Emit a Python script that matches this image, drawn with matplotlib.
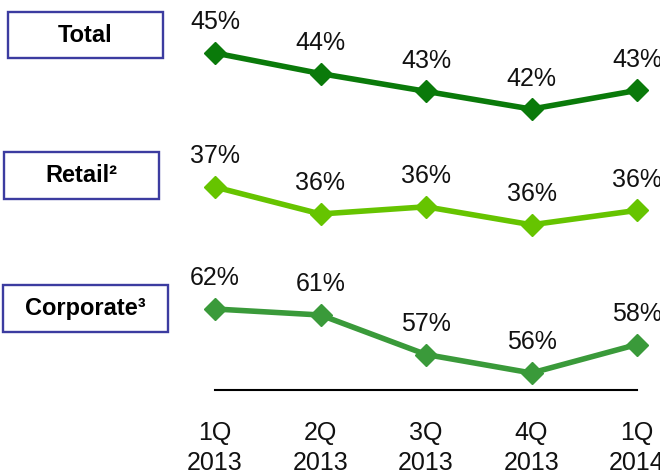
import matplotlib
matplotlib.use("Agg")
import matplotlib.pyplot as plt
from matplotlib.patches import Rectangle

plt.rcParams['font.family'] = ['Liberation Sans', 'DejaVu Sans']

# ---- data ----
quarters = ["1Q\n2013", "2Q\n2013", "3Q\n2013", "4Q\n2013", "1Q\n2014"]
total = [45.0, 43.9, 42.95, 42.0, 43.0]
retail = [36.8, 36.05, 36.25, 35.75, 36.15]
corporate = [62.0, 61.4, 57.45, 55.6, 58.45]
series_names = ["Total", "Retail²", "Corporate³"]

W, H = 660, 472
fig = plt.figure(figsize=(W / 100, H / 100), dpi=100)

def px_axes(top, bottom, left=180, right=660):
    return fig.add_axes([left / W, (H - bottom) / H, (right - left) / W, (bottom - top) / H])

xlim = ((180 - 215) / 105.5, (660 - 215) / 105.5)

panels = [
    (total, '#0a7a0a', (0, 135), (40.615, 47.834)),
    (retail, '#66c400', (135, 265), (34.633, 38.244)),
    (corporate, '#3a9a3a', (265, 390), (53.9, 66.4)),
]

axes = []
for vals, color, (top, bot), ylim in panels:
    ax = px_axes(top, bot)
    x = list(range(len(vals)))
    ax.plot(x, vals, color=color, lw=4, marker='D', ms=11, clip_on=False, zorder=3)
    for xi, v in zip(x, vals):
        ax.annotate(f"{round(v)}%", (xi, v), xytext=(0, 22), textcoords='offset points',
                    ha='center', va='center', fontsize=18, color='#111111',
                    annotation_clip=False)
    ax.set_xlim(*xlim)
    ax.set_ylim(*ylim)
    for s in ax.spines.values():
        s.set_visible(False)
    ax.set_yticks([])
    ax.set_xticks([])
    ax.patch.set_visible(False)
    axes.append(ax)

# bottom axis line and tick labels on the last axes
axb = axes[-1]
axb.spines['bottom'].set_visible(True)
axb.spines['bottom'].set_bounds(0, len(quarters) - 1)
axb.spines['bottom'].set_linewidth(1.5)
axb.spines['bottom'].set_color('black')
axb.set_xticks(range(len(quarters)))
axb.set_xticklabels(quarters, fontsize=18, color='#111111', linespacing=1.32)
axb.tick_params(axis='x', length=0, pad=22)

# label boxes (pixel coords: x0, y0, x1, y1)
boxes = [(8, 12, 163, 58), (4, 152, 159, 199), (3, 285, 168, 332)]
for name, (x0, y0, x1, y1) in zip(series_names, boxes):
    r = Rectangle((x0 / W, (H - y1) / H), (x1 - x0) / W, (y1 - y0) / H,
                  transform=fig.transFigure, facecolor='white', edgecolor='#3c3ca0',
                  linewidth=1.7)
    fig.patches.append(r)
    fig.text((x0 + x1) / 2 / W, (H - (y0 + y1) / 2) / H, name, ha='center', va='center',
             fontsize=17, fontweight='bold', color='black')

fig.savefig("out.png", dpi=100)
